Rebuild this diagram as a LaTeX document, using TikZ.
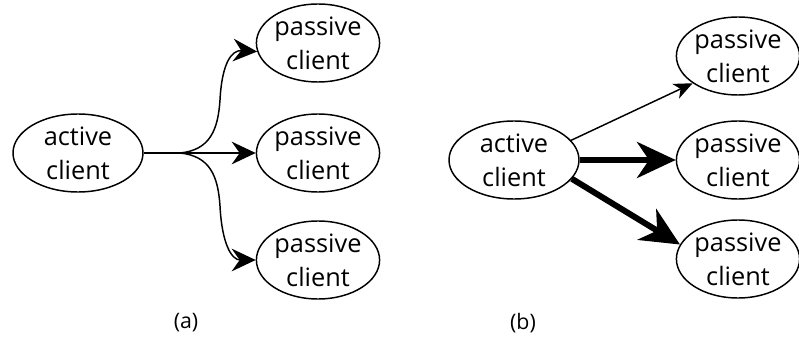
\documentclass[tikz,border=0pt]{standalone}
\usepackage{fontspec}
\setmainfont{Open Sans}
\usetikzlibrary{shapes.geometric,arrows.meta}
\tikzset{
  client/.style={draw,ellipse,line width=1.1pt,inner sep=0pt,align=center,
    minimum width=90pt,minimum height=58.5pt,font=\fontsize{19}{25.5}\selectfont},
  activeclient/.style={client,minimum width=97.5pt},
  link/.style={line width=1.1pt,-{Stealth[length=18pt,width=17pt,inset=6pt]}},
  thinlink/.style={line width=1.1pt,-{Stealth[length=14pt,width=12pt,inset=4pt]}},
  fatlink/.style={line width=4.5pt,-{Stealth[length=29pt,width=27pt,inset=9pt]}},
  caption/.style={font=\fontsize{16}{18}\selectfont}
}

\begin{document}
\begin{tikzpicture}[x=0.75pt,y=-0.75pt]
    \useasboundingbox (0,0) rectangle (799,342);
    % (a): one stream forked to all passive clients
    \node[activeclient] (ca) at (78,153) {active\\client};
    \node[client] (pa1) at (318,43) {passive\\client};
    \node[client] (pa2) at (318,153) {passive\\client};
    \node[client] (pa3) at (318,260) {passive\\client};
    \coordinate (fork) at (180,153);
    \draw[line width=1.1pt] (ca) -- (fork);
    \draw[link] (fork) -- (pa2);
    \draw[link] (fork) .. controls (210,150) and (218,130) .. (220,100)
        .. controls (222,62) and (232,50) .. (pa1.188);
    \draw[link] (fork) .. controls (210,156) and (218,176) .. (220,206)
        .. controls (222,245) and (232,260) .. (pa3.west);
    \node[caption] (capa) at (186,323) {(a)};
    % (b): separate streams of differing weight
    \node[activeclient] (cb) at (514,160) {active\\client};
    \node[client] (pb1) at (738,56) {passive\\client};
    \node[client] (pb2) at (738,160) {passive\\client};
    \node[client] (pb3) at (738,259) {passive\\client};
    \draw[thinlink] (cb.19) -- (pb1.211);
    \draw[fatlink] (cb) -- (pb2);
    \draw[fatlink] (cb.-18) -- (pb3.166);
    \node[caption] (capb) at (523,323) {(b)};
\end{tikzpicture}
\end{document}
